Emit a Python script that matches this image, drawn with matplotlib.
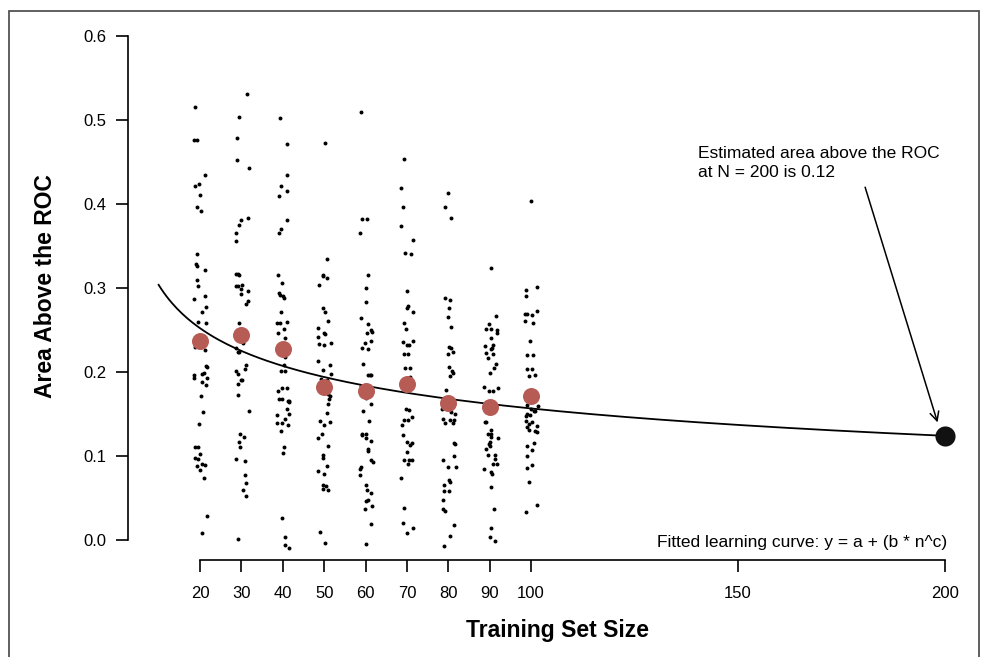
import matplotlib
matplotlib.use("Agg")
import matplotlib.pyplot as plt
import numpy as np
from matplotlib.patches import Rectangle

plt.rcParams['font.family'] = ['Liberation Sans', 'DejaVu Sans']

# training set sizes and the mean area above the ROC at each size
sizes = [20, 30, 40, 50, 60, 70, 80, 90, 100]
mean_auc = [0.237, 0.244, 0.227, 0.182, 0.177, 0.186, 0.163, 0.158, 0.171]

# individual runs (area above ROC) and their horizontal jitter, per size
y20 = [0.515, 0.476, 0.476, 0.434, 0.421, 0.424, 0.411, 0.397, 0.392, 0.340, 0.328, 0.326, 0.321, 0.309, 0.302, 0.291,
       0.287, 0.277, 0.272, 0.260, 0.258, 0.230, 0.226, 0.207, 0.206, 0.199, 0.198, 0.196, 0.193, 0.193, 0.188, 0.184,
       0.171, 0.152, 0.138, 0.111, 0.111, 0.102, 0.098, 0.096, 0.088, 0.090, 0.089, 0.083, 0.074, 0.028, 0.008]
dx20 = [-1.2, -1.5, -0.8, 1.3, -1.2, -0.3, 0.0, -0.8, 0.3, -0.8, -1.0, -0.8, 1.3, -0.8, -0.4, 1.3, -1.4, 1.5, 0.6, -0.6,
        1.4, -1.2, 1.3, 1.5, 1.6, 1.0, 0.6, -1.5, -1.4, 1.6, 0.6, 1.4, 0.2, 0.7, -0.2, -1.3, -0.6, 0.0, -1.2, -0.6, -0.8,
        0.6, 1.2, 0.0, 1.0, 1.6, 0.6]
y30 = [0.531, 0.503, 0.479, 0.452, 0.443, 0.383, 0.381, 0.375, 0.366, 0.356, 0.317, 0.317, 0.315, 0.302, 0.302, 0.304,
       0.299, 0.297, 0.293, 0.284, 0.281, 0.258, 0.235, 0.229, 0.224, 0.224, 0.208, 0.204, 0.201, 0.198, 0.191, 0.191,
       0.186, 0.173, 0.154, 0.126, 0.123, 0.117, 0.111, 0.096, 0.094, 0.077, 0.068, 0.060, 0.052, 0.001]
dx30 = [1.4, -0.5, -1.0, -1.1, 1.8, 1.6, 0.0, -0.6, -1.3, -1.4, -1.2, -0.8, -0.6, -1.3, -0.9, 0.2, 0.0, 1.5, -0.1, 1.5,
        1.2, -0.6, 0.4, -1.2, -0.9, -0.5, 1.1, 0.8, -1.3, -0.9, -0.1, 0.2, -0.8, -0.8, 1.9, -0.3, 0.7, -0.5, -0.4, -1.2,
        0.9, 0.8, 1.2, 0.3, 1.1, -0.8]
y40 = [0.502, 0.472, 0.435, 0.421, 0.416, 0.409, 0.381, 0.370, 0.366, 0.315, 0.306, 0.294, 0.292, 0.290, 0.288, 0.271,
       0.258, 0.258, 0.259, 0.251, 0.247, 0.241, 0.218, 0.208, 0.201, 0.201, 0.177, 0.181, 0.181, 0.168, 0.168, 0.166,
       0.165, 0.164, 0.156, 0.149, 0.150, 0.144, 0.139, 0.139, 0.137, 0.130, 0.111, 0.103, 0.026, 0.003, -0.006, -0.009]
dx40 = [-0.6, 1.0, 1.0, -0.4, 1.0, -1.0, 1.1, -0.4, -1.0, -1.2, -0.2, -1.0, -0.6, 0.0, 0.2, -0.5, -1.5, -0.6, 1.1, 0.2,
        -1.2, 0.6, 0.6, 0.2, -0.4, 0.6, -1.2, -0.1, 1.1, -1.0, -0.2, 1.2, 1.4, 1.5, 0.9, -1.5, 1.5, 0.6, -1.5, -0.1,
        1.2, -0.5, 0.3, 0.0, -0.2, 0.6, 0.6, 1.4]
y50 = [0.473, 0.335, 0.315, 0.314, 0.312, 0.304, 0.276, 0.271, 0.261, 0.252, 0.246, 0.245, 0.242, 0.233, 0.232, 0.235,
       0.213, 0.208, 0.202, 0.198, 0.192, 0.191, 0.174, 0.172, 0.168, 0.162, 0.151, 0.142, 0.137, 0.140, 0.126, 0.121,
       0.112, 0.101, 0.098, 0.088, 0.082, 0.078, 0.066, 0.064, 0.061, 0.059, 0.009, -0.003]
dx50 = [0.3, 0.8, -0.4, -0.2, 0.6, -1.3, -0.2, 0.2, 0.9, -1.5, -0.1, 0.2, -1.5, -1.3, 0.0, 1.7, -1.5, 1.4, -0.2, 1.6,
        -0.8, 0.7, 1.0, 1.4, 1.2, 0.9, 0.6, -0.9, 0.0, 1.5, -0.6, -1.5, 0.9, -0.3, -0.3, 0.7, -1.5, 0.0, -0.3, 0.4,
        -0.2, 1.0, -1.0, 0.2]
y60 = [0.509, 0.382, 0.382, 0.366, 0.315, 0.300, 0.283, 0.264, 0.257, 0.250, 0.248, 0.246, 0.234, 0.237, 0.228, 0.227,
       0.210, 0.196, 0.196, 0.197, 0.183, 0.169, 0.162, 0.154, 0.142, 0.126, 0.125, 0.126, 0.122, 0.118, 0.108, 0.106,
       0.095, 0.093, 0.087, 0.085, 0.077, 0.065, 0.060, 0.056, 0.048, 0.046, 0.040, 0.037, 0.019, -0.005]
dx60 = [-1.1, -0.8, 0.3, -1.3, 0.6, 0.2, 0.2, -1.0, 0.7, 1.2, 1.6, 0.3, -0.2, 1.3, -0.9, 0.6, -0.6, 0.7, 1.0, 1.4,
        -1.2, 0.2, 1.3, -0.6, 0.9, -0.9, -0.8, 0.2, 0.0, 1.4, 0.5, 0.7, 1.4, 1.7, -1.1, -1.3, -1.4, 0.1, 0.4, 1.2,
        0.5, 0.2, 1.6, -0.2, 1.3, 0.1]
y70 = [0.454, 0.419, 0.396, 0.374, 0.357, 0.342, 0.340, 0.297, 0.279, 0.276, 0.271, 0.258, 0.251, 0.236, 0.232, 0.232,
       0.237, 0.222, 0.222, 0.205, 0.205, 0.194, 0.156, 0.155, 0.147, 0.143, 0.143, 0.137, 0.125, 0.117, 0.116, 0.113,
       0.105, 0.095, 0.095, 0.095, 0.090, 0.074, 0.038, 0.020, 0.008, 0.014]
dx70 = [-0.6, -1.5, -0.9, -1.5, 1.4, -0.4, 1.0, 0.1, 0.3, -0.1, 1.5, -0.8, -0.2, -1.0, -0.1, 0.6, 1.4, -0.6, 0.2, -0.5,
        0.7, 0.8, -0.2, 0.4, 1.2, -0.6, 0.2, -1.2, -0.9, -0.1, 1.2, 0.8, -0.1, -0.6, 0.6, 1.2, 0.2, -1.4, -0.7, -0.9,
        -0.1, 1.4]
y80 = [0.413, 0.396, 0.383, 0.288, 0.286, 0.276, 0.265, 0.254, 0.230, 0.228, 0.224, 0.222, 0.206, 0.201, 0.199, 0.195,
       0.179, 0.156, 0.152, 0.150, 0.144, 0.139, 0.143, 0.143, 0.139, 0.116, 0.114, 0.100, 0.095, 0.087, 0.087, 0.071,
       0.069, 0.065, 0.058, 0.058, 0.048, 0.037, 0.035, 0.018, 0.005, -0.007]
dx80 = [-0.1, -0.9, 0.6, -0.8, 0.4, 0.2, -0.1, 0.6, 0.2, 0.6, 1.2, -0.1, 0.1, 0.9, 1.2, 0.4, -0.6, -1.5, 0.6, 1.5,
        -1.3, -0.7, 0.3, 1.4, 1.2, 1.4, 1.5, 1.4, -1.2, -0.2, 1.8, 0.2, 0.4, -1.0, -1.0, 0.2, -1.3, -1.4, -0.9, 1.4,
        0.4, -1.0]
y90 = [0.324, 0.267, 0.257, 0.251, 0.251, 0.250, 0.247, 0.240, 0.231, 0.232, 0.229, 0.227, 0.223, 0.222, 0.217, 0.209,
       0.205, 0.199, 0.182, 0.181, 0.177, 0.177, 0.140, 0.140, 0.131, 0.126, 0.126, 0.123, 0.121, 0.117, 0.114, 0.112,
       0.108, 0.101, 0.101, 0.097, 0.090, 0.091, 0.085, 0.081, 0.078, 0.063, 0.037, 0.014, 0.003, -0.001]
dx90 = [0.2, 1.4, -0.2, -0.9, 0.4, 1.7, 1.7, 0.2, -1.2, 0.8, 0.6, 0.2, -0.9, 0.7, -0.4, 1.4, 1.0, 0.1, -1.3, 1.9,
        -0.2, 0.8, -1.2, -0.8, 0.2, -0.5, 0.4, 0.4, 1.9, 0.1, -0.1, 0.1, -1.0, -0.4, 1.2, 1.2, 0.8, 1.7, -1.3, 0.2,
        0.6, 0.3, 1.0, 0.4, 0.0, 1.2]
y100 = [0.404, 0.301, 0.298, 0.290, 0.269, 0.269, 0.268, 0.273, 0.261, 0.258, 0.237, 0.220, 0.220, 0.204, 0.203, 0.195,
        0.196, 0.161, 0.156, 0.154, 0.153, 0.150, 0.148, 0.149, 0.159, 0.142, 0.141, 0.138, 0.136, 0.134, 0.131, 0.130,
        0.128, 0.115, 0.112, 0.107, 0.100, 0.089, 0.086, 0.069, 0.042, 0.033]
dx100 = [0.0, 1.5, -1.2, -1.2, -1.5, -1.1, 0.1, 1.5, -1.5, 0.4, -0.2, -1.1, 0.4, -1.0, 0.2, -0.6, 1.0, -1.0, -0.1, 0.6,
         1.0, -0.9, -1.3, -0.2, 1.6, -1.2, 0.1, -0.4, 1.5, -0.9, -0.6, 1.0, 1.4, 0.7, -0.9, 0.3, -0.9, 0.2, -1.0, -0.6,
         1.4, -1.2]

# fitted learning curve y = a + b * n^c and its extrapolation
fit_a, fit_b, fit_c = -0.095, 0.632, -0.2
curve_start, curve_end = 10, 200
n_target, y_target = 200, 0.124

runs_y = [y20, y30, y40, y50, y60, y70, y80, y90, y100]
runs_dx = [dx20, dx30, dx40, dx50, dx60, dx70, dx80, dx90, dx100]

fig = plt.figure(figsize=(9.82, 6.57), dpi=100)
ax = fig.add_axes([128 / 982, 97 / 657, 837.7 / 982, 540.8 / 657])

for n, ys, dxs in zip(sizes, runs_y, runs_dx):
    ax.scatter(n + np.array(dxs), ys, s=8, color='black', linewidths=0, zorder=2)

nn = np.linspace(curve_start, curve_end, 300)
ax.plot(nn, fit_a + fit_b * nn ** fit_c, color='black', lw=1.3, zorder=3)

ax.scatter(sizes, mean_auc, s=150, color='#B75B55', linewidths=0, zorder=4)
ax.scatter([n_target], [y_target], s=210, color='#111111', linewidths=0, zorder=4)

ax.annotate('', xy=(198.2, 0.140), xytext=(180.7, 0.420),
            arrowprops=dict(arrowstyle='->', lw=1.1, color='black', mutation_scale=16, shrinkA=0, shrinkB=0))
ax.text(140.3, 0.4685, 'Estimated area above the ROC\nat N = 200 is 0.12', ha='left', va='top',
        fontsize=12.5, linespacing=1.3)
ax.text(200.5, -0.0083, 'Fitted learning curve: y = a + (b * n^c)', ha='right', va='baseline', fontsize=12.5)

ax.set_xlim(2.6, 205)
ax.set_ylim(-0.0238, 0.62)
for side in ['top', 'right']:
    ax.spines[side].set_visible(False)
ax.spines['left'].set_bounds(0, 0.6)
ax.spines['bottom'].set_bounds(20, 200)
for side in ['left', 'bottom']:
    ax.spines[side].set_linewidth(1.2)
ax.set_xticks(sizes + [150, 200])
ax.set_yticks([0.0, 0.1, 0.2, 0.3, 0.4, 0.5, 0.6])
ax.set_yticklabels(['0.0', '0.1', '0.2', '0.3', '0.4', '0.5', '0.6'])
ax.tick_params(axis='both', length=8.5, width=1.2, labelsize=12)
ax.tick_params(axis='x', pad=10)
ax.tick_params(axis='y', pad=7)
ax.patch.set_visible(False)

fig.text(558 / 982, 1 - 630 / 657, 'Training Set Size', ha='center', va='center', fontsize=16.5,
         fontweight='bold')
fig.text(46 / 982, 1 - 286 / 657, 'Area Above the ROC', ha='center', va='center', rotation=90, fontsize=16.5,
         fontweight='bold')

fig.patches.append(Rectangle((9 / 982, -0.05), 970 / 982, 1.05 - 11 / 657, transform=fig.transFigure,
                             fill=False, edgecolor='#444444', lw=1.2))

fig.savefig('out.png', dpi=100)
